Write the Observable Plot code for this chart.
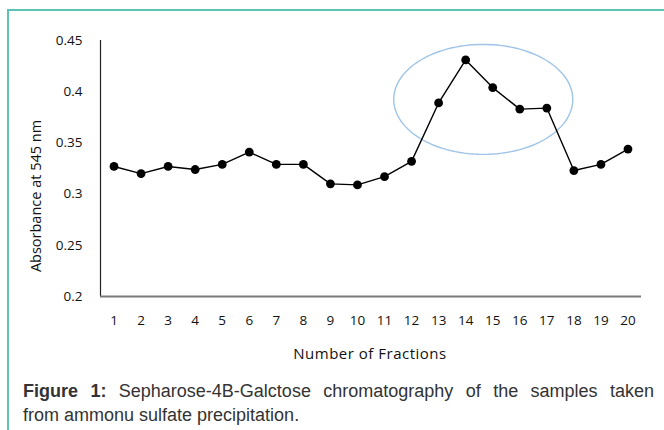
<!DOCTYPE html>
<html>
<head>
<meta charset="utf-8">
<script src="https://cdn.jsdelivr.net/npm/d3@7"></script>
<script src="https://cdn.jsdelivr.net/npm/@observablehq/plot@0.6"></script>
<style>
  html, body { margin: 0; padding: 0; background: #fff; }
  #wrap { position: relative; width: 664px; height: 430px; overflow: hidden; background: #fff; }
  #frame { position: absolute; left: 7px; top: 9px; right: -4px; bottom: -4px;
           border-top: 2px solid #5cc4b4; border-left: 2px solid #5cc4b4; }
  #chart { position: absolute; left: 0; top: 0; }
  #caption { position: absolute; left: 23px; top: 379px; width: 631px;
             font-family: "Liberation Sans", Arial, sans-serif; font-size: 18px;
             color: #333; line-height: 24px; }
  #caption .l1 { text-align: justify; text-align-last: justify; white-space: nowrap; }
  #caption b { font-weight: bold; }
  .ttl { position: absolute; font-family: "Open Sans", sans-serif; color: #111; white-space: nowrap; }
</style>
</head>
<body>
<div id="wrap">
  <div id="frame"></div>
  <div id="chart"></div>
  <div class="ttl" id="xt" style="left:370px; top:353px; font-size:15px; letter-spacing:0.5px; transform: translate(-50%,-50%);">Number of Fractions</div>
  <div class="ttl" id="yt" style="left:35px; top:196px; font-size:14.5px; transform: translate(-50%,-50%) rotate(-90deg);">Absorbance at 545 nm</div>
  <div id="caption">
    <div class="l1"><b>Figure 1:</b> Sepharose-4B-Galctose chromatography of the samples taken</div>
    <div>from ammonu sulfate precipitation.</div>
  </div>
</div>
<script>
// Data
const fractions = [1,2,3,4,5,6,7,8,9,10,11,12,13,14,15,16,17,18,19,20];
const absorbance = [0.327,0.320,0.327,0.324,0.329,0.341,0.329,0.329,0.310,0.309,0.317,0.332,0.389,0.431,0.404,0.383,0.384,0.323,0.329,0.344];
const yTicks = [0.2,0.25,0.3,0.35,0.4,0.45];
const yTickLabels = ["0.2","0.25","0.3","0.35","0.4","0.45"];
const xDomain = [0.5, 20.5];
const yDomain = [0.2, 0.45];
// Highlight ellipse (annotation) in data units
const ellipseCenter = {x: 14.65, y: 0.3925};
const ellipseRadii = {x: 3.31, y: 0.0537};

const data = fractions.map((f, i) => ({f, a: absorbance[i]}));
const ellipse = d3.range(0, 361, 3).map(deg => {
  const t = deg * Math.PI / 180;
  return {x: ellipseCenter.x + ellipseRadii.x * Math.cos(t), y: ellipseCenter.y + ellipseRadii.y * Math.sin(t)};
});

const chart = Plot.plot({
  width: 664,
  height: 370,
  marginLeft: 100,
  marginRight: 23,
  marginTop: 40,
  marginBottom: 74,
  style: {fontFamily: "'Open Sans', sans-serif", fontSize: "13.5px", color: "#111", background: "transparent"},
  x: {domain: xDomain, axis: null},
  y: {domain: yDomain, axis: null},
  marks: [
    Plot.axisY({ticks: yTicks, tickFormat: (d, i) => yTickLabels[i], tickSize: 0, tickPadding: 18, label: null, fontSize: 13.5}),
    Plot.axisX({ticks: fractions, tickFormat: d => String(d), tickSize: 0, tickPadding: 19, label: null, fontSize: 13.5}),
    Plot.ruleX([xDomain[0]], {stroke: "#222", strokeWidth: 1.2}),
    Plot.ruleY([yDomain[0]], {stroke: "#7a7a7a", strokeWidth: 2.2}),
    Plot.line(ellipse, {x: "x", y: "y", stroke: "#9fc4e8", strokeWidth: 1.4, curve: "linear"}),
    Plot.line(data, {x: "f", y: "a", stroke: "#000", strokeWidth: 1.4}),
    Plot.dot(data, {x: "f", y: "a", r: 4.4, fill: "#000", stroke: "none"})
  ]
});
document.getElementById("chart").appendChild(chart);
</script>
</body>
</html>
